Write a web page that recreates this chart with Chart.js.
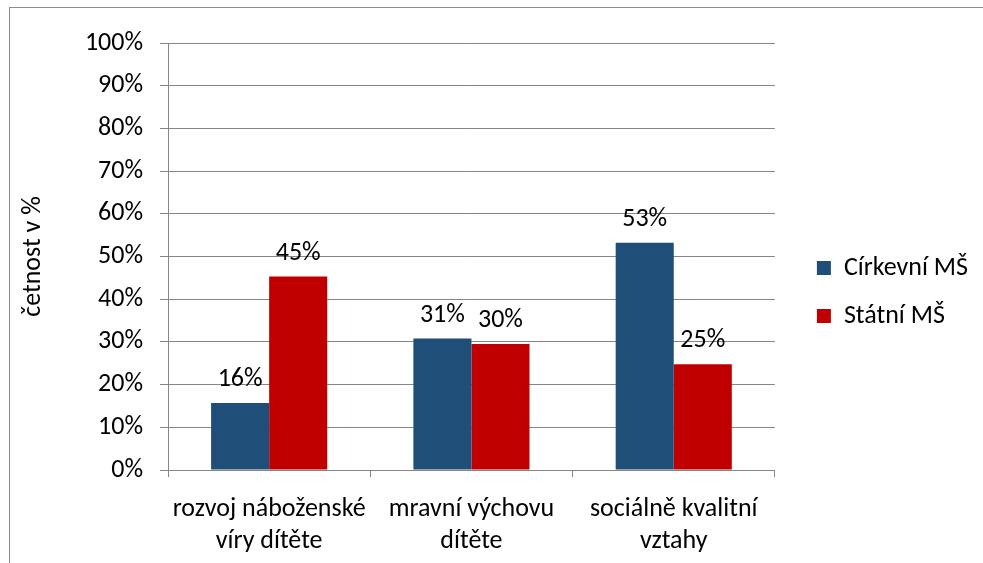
<!DOCTYPE html>
<html>
<head>
<meta charset="utf-8">
<script src="https://cdn.jsdelivr.net/npm/chart.js@4/dist/chart.umd.min.js"></script>
<style>
  body { margin: 0; background: #fff; overflow: hidden; }
  #frame { position: absolute; left: 9px; top: 7px; width: 1000px; height: 600px; border: 1px solid #8c8c8c; }
  #chart { position: absolute; left: 0; top: 0; }
</style>
</head>
<body>
<div id="frame"></div>
<canvas id="chart" width="983" height="563"></canvas>
<script>
// kategorie a hodnoty (v %)
const categories = [['rozvoj náboženské', 'víry dítěte'], ['mravní výchovu', 'dítěte'], ['sociálně kvalitní', 'vztahy']];
const cirkevni = [15.7, 30.8, 53.2];
const statni   = [45.3, 29.5, 24.8];
const yTicks   = [0, 10, 20, 30, 40, 50, 60, 70, 80, 90, 100];

const FONT = "Calibri, Carlito, Lato, sans-serif";

// popisky hodnot nad sloupci
const valueLabels = {
  id: 'valueLabels',
  afterDatasetsDraw(chart) {
    const ctx = chart.ctx;
    ctx.save();
    ctx.font = `26px ${FONT}`;
    ctx.fillStyle = '#000';
    ctx.textAlign = 'center';
    ctx.textBaseline = 'alphabetic';
    chart.data.datasets.forEach((ds, i) => {
      chart.getDatasetMeta(i).data.forEach((bar, j) => {
        ctx.fillText(Math.round(ds.data[j]) + '%', bar.x, bar.y - 17);
      });
    });
    ctx.restore();
  }
};

new Chart(document.getElementById('chart'), {
  type: 'bar',
  data: {
    labels: categories,
    datasets: [
      { label: 'Církevní MŠ', data: cirkevni, backgroundColor: '#1f4e79' },
      { label: 'Státní MŠ', data: statni, backgroundColor: '#c00000' }
    ]
  },
  options: {
    responsive: false,
    animation: false,
    layout: { padding: { left: 0, top: 43, right: 5, bottom: -10 } },
    datasets: { bar: { categoryPercentage: 0.574, barPercentage: 1 } },
    plugins: {
      tooltip: { enabled: false },
      legend: {
        position: 'right',
        align: 'start',
        maxWidth: 260,
        title: { display: true, text: '', font: { size: 10, lineHeight: 1 }, padding: { top: 180, bottom: 0 } },
        labels: {
          boxWidth: 14, boxHeight: 14, padding: 22, color: '#000',
          font: { family: FONT, size: 26 }
        }
      }
    },
    scales: {
      x: {
        grid: { offset: true, drawOnChartArea: false, color: '#868686', tickLength: 7 },
        border: { color: '#868686' },
        ticks: { color: '#000', font: { family: FONT, size: 26, lineHeight: 1.23 }, padding: 16, maxRotation: 0 }
      },
      y: {
        min: 0, max: 100,
        afterBuildTicks: axis => { axis.ticks = yTicks.map(v => ({ value: v })); },
        afterFit: s => { s.width = 168; },
        grid: { color: '#868686', tickLength: 8 },
        border: { color: '#868686' },
        ticks: { color: '#000', font: { family: FONT, size: 26 }, padding: 17, callback: v => v + '%' },
        title: { display: true, text: 'četnost v %', color: '#000', font: { family: FONT, size: 26 }, padding: { top: 18, bottom: 40 } }
      },
      // prázdná osa jen jako mezera mezi grafem a legendou
      spacer: {
        position: 'right',
        display: true,
        grid: { display: false },
        border: { display: false },
        ticks: { display: false },
        afterFit: s => { s.width = 20; }
      }
    }
  },
  plugins: [valueLabels]
});
</script>
</body>
</html>
